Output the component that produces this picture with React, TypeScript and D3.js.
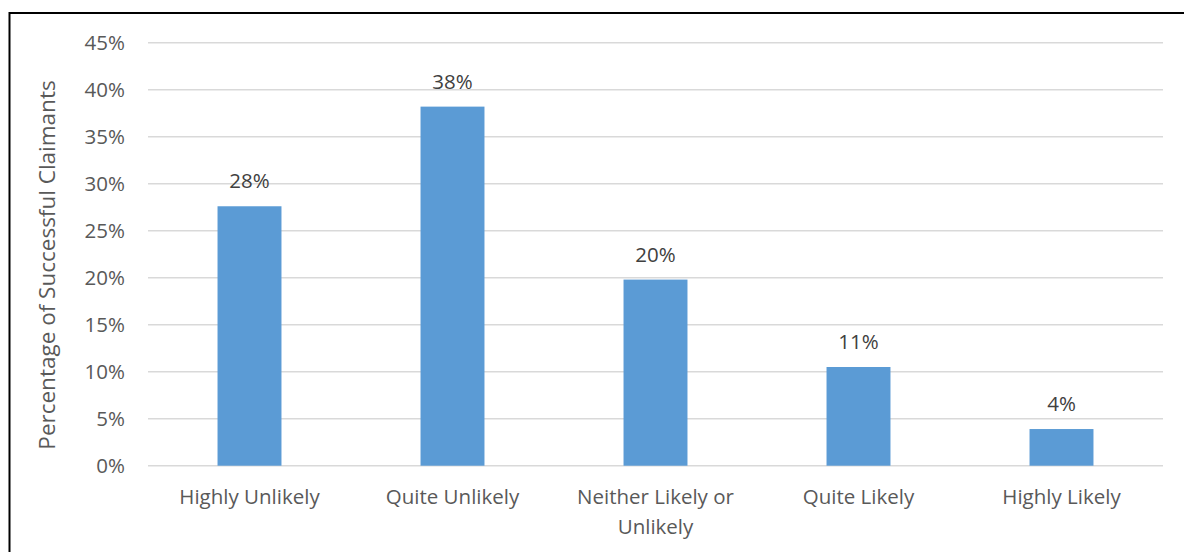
import React from "react";
import * as d3 from "d3";

const categories = [
  ["Highly Unlikely"],
  ["Quite Unlikely"],
  ["Neither Likely or", "Unlikely"],
  ["Quite Likely"],
  ["Highly Likely"],
];
const values = [0.276, 0.382, 0.198, 0.105, 0.039];
const yTicks = [0, 0.05, 0.1, 0.15, 0.2, 0.25, 0.3, 0.35, 0.4, 0.45];
const yTitle = "Percentage of Successful Claimants";

const W = 1184;
const H = 552;
const plot = { left: 148, right: 1163, top: 42.7, bottom: 465.7 };
const FONT = "'Open Sans', sans-serif";

export default function App() {
  const keys = categories.map((c) => c.join(" "));
  const x = d3
    .scaleBand<string>()
    .domain(keys)
    .range([plot.left, plot.right])
    .paddingInner(0.685)
    .paddingOuter(0.3425);
  const y = d3.scaleLinear().domain([0, 0.45]).range([plot.bottom, plot.top]);
  const pct = d3.format(".0%");
  const cx = (i: number) => (x(keys[i]) as number) + x.bandwidth() / 2;

  return (
    <svg
      width={W}
      height={H}
      style={{ position: "absolute", left: 0, top: 0, background: "#fff" }}
    >
      <rect x={0} y={0} width={W} height={H} fill="#fff" />
      {/* frame */}
      <path d={`M9.5,${H + 2}V13H${W + 2}`} fill="none" stroke="#000" strokeWidth={2} />

      {/* gridlines and y tick labels */}
      {yTicks.map((t) => (
        <g key={t}>
          <line
            x1={plot.left}
            x2={plot.right}
            y1={y(t)}
            y2={y(t)}
            stroke="#d9d9d9"
            strokeWidth={1.5}
          />
          <text
            x={125}
            y={y(t)}
            dy="0.36em"
            textAnchor="end"
            fontFamily={FONT}
            fontSize={20.5}
            fill="#595959"
          >
            {pct(t)}
          </text>
        </g>
      ))}

      {/* bars */}
      {values.map((v, i) => (
        <rect
          key={keys[i]}
          x={x(keys[i])}
          y={y(v)}
          width={x.bandwidth()}
          height={y(0) - y(v)}
          fill="#5b9bd5"
        />
      ))}

      {/* data labels */}
      {values.map((v, i) => (
        <text
          key={"l" + i}
          x={cx(i)}
          y={y(v) - 18}
          textAnchor="middle"
          fontFamily={FONT}
          fontSize={20.5}
          fill="#404040"
        >
          {pct(v)}
        </text>
      ))}

      {/* category labels */}
      {categories.map((lines, i) => (
        <text
          key={"c" + i}
          y={504}
          textAnchor="middle"
          fontFamily={FONT}
          fontSize={20.5}
          fill="#595959"
        >
          {lines.map((ln, j) => (
            <tspan key={j} x={cx(i)} dy={j === 0 ? 0 : 30}>
              {ln}
            </tspan>
          ))}
        </text>
      ))}

      {/* y axis title */}
      <text
        transform={`translate(55,265) rotate(-90)`}
        textAnchor="middle"
        fontFamily={FONT}
        fontSize={22.5}
        fill="#595959"
      >
        {yTitle}
      </text>
    </svg>
  );
}
